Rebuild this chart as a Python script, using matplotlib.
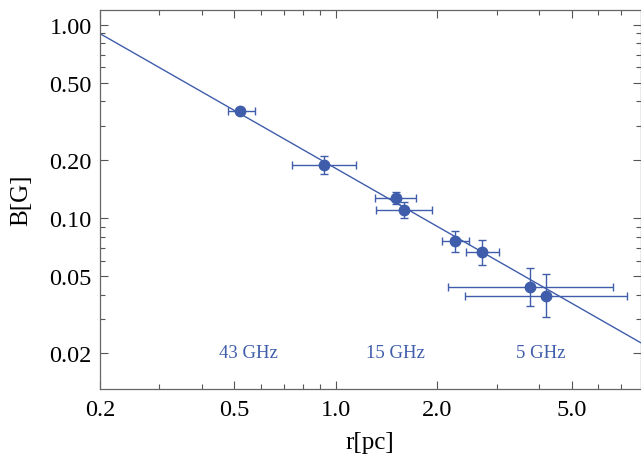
import numpy as np
import matplotlib.pyplot as plt
from matplotlib.ticker import FixedLocator, NullFormatter

plt.rcParams['font.family'] = ['Liberation Serif', 'DejaVu Serif']

blue = '#3f5dab'

# measured points
r = [0.52, 0.92, 1.51, 1.59, 2.25, 2.71, 3.76, 4.19]
r_lo = [0.479, 0.741, 1.306, 1.315, 2.062, 2.43, 2.148, 2.41]
r_hi = [0.576, 1.147, 1.727, 1.925, 2.48, 3.04, 6.62, 7.29]
B = [0.358, 0.188, 0.127, 0.110, 0.076, 0.0667, 0.0439, 0.0394]
B_lo = [0.345, 0.169, 0.118, 0.100, 0.0667, 0.0571, 0.0349, 0.0306]
B_hi = [0.372, 0.210, 0.136, 0.121, 0.0857, 0.0770, 0.0552, 0.0514]

# fitted power law, endpoints
fit_r = [0.2, 8.0]
fit_B = [0.898, 0.0226]

bands = ['43 GHz', '15 GHz', '5 GHz']
band_r = [0.55, 1.50, 4.05]
band_B = 0.02

r = np.array(r); B = np.array(B)
xerr = [r - np.array(r_lo), np.array(r_hi) - r]
yerr = [B - np.array(B_lo), np.array(B_hi) - B]

fig = plt.figure(figsize=(6.41, 4.60), dpi=100)
ax = fig.add_axes([100/641, 70/460, 540.5/641, 379/460])

ax.plot(fit_r, fit_B, color=blue, lw=1.0)
ax.errorbar(r, B, xerr=xerr, yerr=yerr, fmt='o', color=blue, ms=7.5,
            elinewidth=1.0, capsize=3, capthick=1.0)

for t, x in zip(bands, band_r):
    ax.text(x, band_B, t, color=blue, fontsize=13.5, ha='center', va='center')

ax.set_xscale('log')
ax.set_yscale('log')
ax.set_xlim(0.2, 8.0)
ax.set_ylim(0.013, 1.19)

xmaj = [0.2, 0.5, 1.0, 2.0, 5.0]
xmin = [0.3, 0.4, 0.6, 0.7, 0.8, 0.9, 3, 4, 6, 7]
ymaj = [0.02, 0.05, 0.1, 0.2, 0.5, 1.0]
ymin = [0.03, 0.04, 0.06, 0.07, 0.08, 0.09, 0.3, 0.4, 0.6, 0.7, 0.8, 0.9]
ax.xaxis.set_major_locator(FixedLocator(xmaj))
ax.xaxis.set_minor_locator(FixedLocator(xmin))
ax.yaxis.set_major_locator(FixedLocator(ymaj))
ax.yaxis.set_minor_locator(FixedLocator(ymin))
ax.set_xticklabels(['0.2', '0.5', '1.0', '2.0', '5.0'])
ax.set_yticklabels(['0.02', '0.05', '0.10', '0.20', '0.50', '1.00'])
ax.xaxis.set_minor_formatter(NullFormatter())
ax.yaxis.set_minor_formatter(NullFormatter())

ax.tick_params(which='both', direction='in', top=True, right=True,
               color='#555555', labelsize=17.5, width=0.8)
ax.tick_params(which='major', length=6)
ax.tick_params(which='minor', length=3.5)
ax.tick_params(axis='x', pad=7)
ax.tick_params(axis='y', pad=6)
for s in ax.spines.values():
    s.set_color('#666666')
    s.set_linewidth(0.9)

ax.set_xlabel('r[pc]', fontsize=18, labelpad=8)
ax.set_ylabel('B[G]', fontsize=18, labelpad=12)

fig.savefig('out.png', dpi=100)
